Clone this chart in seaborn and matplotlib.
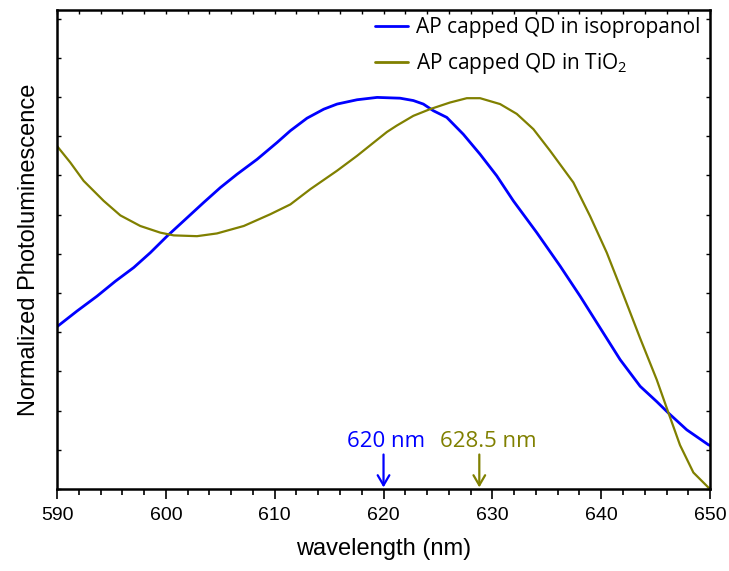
import matplotlib
matplotlib.use("Agg")
import matplotlib.pyplot as plt
import seaborn as sns
import pandas as pd
from matplotlib.ticker import MultipleLocator, NullFormatter
from matplotlib.lines import Line2D

# ---- data ----
iso_x = [590.00, 591.84, 593.68, 595.36, 597.05, 598.58, 600.11, 601.64, 603.48, 605.01,
         606.54, 608.38, 610.22, 611.44, 612.97, 614.51, 615.73, 617.57, 619.41, 621.52,
         622.74, 623.66, 624.58, 625.81, 627.33, 628.87, 630.40, 631.93, 634.08, 636.22,
         638.06, 639.90, 641.74, 643.58, 645.10, 646.17, 647.86, 649.84, 650.00]
iso_y = [0.414, 0.454, 0.492, 0.530, 0.565, 0.603, 0.645, 0.684, 0.731, 0.769,
         0.803, 0.841, 0.884, 0.914, 0.946, 0.969, 0.982, 0.993, 0.999, 0.997,
         0.991, 0.982, 0.965, 0.948, 0.905, 0.854, 0.799, 0.735, 0.654, 0.569,
         0.492, 0.411, 0.330, 0.262, 0.223, 0.194, 0.151, 0.113, 0.111]
tio_x = [590.00, 591.22, 592.45, 594.29, 595.82, 597.65, 599.49, 600.72, 602.86, 604.70,
         607.16, 609.60, 611.44, 613.28, 615.73, 617.57, 619.10, 620.32, 621.21, 622.74,
         624.27, 626.11, 627.65, 628.87, 630.71, 632.24, 633.77, 635.30, 637.44, 638.98,
         640.51, 642.04, 643.57, 645.10, 646.17, 647.24, 648.47, 649.84, 650.00]
tio_y = [0.875, 0.833, 0.786, 0.735, 0.698, 0.671, 0.654, 0.647, 0.645, 0.652,
         0.671, 0.701, 0.726, 0.765, 0.812, 0.850, 0.884, 0.911, 0.927, 0.952,
         0.969, 0.986, 0.997, 0.997, 0.982, 0.957, 0.918, 0.863, 0.782, 0.696,
         0.603, 0.495, 0.385, 0.279, 0.195, 0.112, 0.042, 0.004, 0.002]
labels = ["AP capped QD in isopropanol", "AP capped QD in TiO$_2$"]
colors = ["#0000FF", "#808000"]
peak_pos = [620.0, 628.8]
peak_text = ["620 nm", "628.5 nm"]
peak_text_x = [620.2, 629.6]

sns.set_theme(style="white")
plt.rcParams["font.family"] = ["Liberation Sans", "DejaVu Sans"]
plt.rcParams["text.color"] = "black"
plt.rcParams["axes.labelcolor"] = "black"
plt.rcParams["xtick.color"] = "black"
plt.rcParams["ytick.color"] = "black"
plt.rcParams["mathtext.fontset"] = "custom"
plt.rcParams["mathtext.rm"] = "Open Sans"
plt.rcParams["mathtext.it"] = "Open Sans"

df = pd.concat([
    pd.DataFrame({"wavelength": iso_x, "PL": iso_y, "sample": labels[0]}),
    pd.DataFrame({"wavelength": tio_x, "PL": tio_y, "sample": labels[1]}),
], ignore_index=True)

fig = plt.figure(figsize=(7.29, 5.71), dpi=100)
ax = fig.add_axes([0.0782, 0.1436, 0.974 - 0.0782, 0.9825 - 0.1436])

sns.lineplot(data=df, x="wavelength", y="PL", hue="sample", palette=colors,
             estimator=None, sort=False, ax=ax, legend=False)
for ln, lw in zip(ax.lines, [2.0, 1.6]):
    ln.set_linewidth(lw)
    ln.set_solid_joinstyle("round")

ax.set_xlim(590, 650)
ax.set_ylim(0, 1.222)

for s in ax.spines.values():
    s.set_visible(True)
    s.set_color("black")
    s.set_linewidth(1.8)

ax.xaxis.set_major_locator(MultipleLocator(10))
ax.xaxis.set_minor_locator(MultipleLocator(2))
ax.tick_params(axis="x", which="major", direction="out", length=7, width=1.2,
               bottom=True, top=False, labelsize=14, pad=6, colors="black")
ax.tick_params(axis="x", which="minor", direction="out", length=4, width=1.2,
               bottom=True, top=False)
sec = ax.secondary_xaxis("top")
sec.xaxis.set_major_locator(MultipleLocator(2))
sec.tick_params(axis="x", which="major", direction="in", length=3, width=1.0,
                labeltop=False, colors="black")
sec.spines["top"].set_visible(False)

ax.yaxis.set_major_locator(MultipleLocator(0.1))
ax.yaxis.set_major_formatter(NullFormatter())
ax.tick_params(axis="y", which="major", direction="in", length=3, width=1.0,
               left=True, right=True, labelleft=False, colors="black")

ax.set_xlabel("wavelength (nm)", fontsize=17, labelpad=10, color="black")
ax.set_ylabel("Normalized Photoluminescence", fontsize=17, labelpad=12, color="black")

handles = [Line2D([], [], color=c, lw=2.0) for c in colors]
leg = ax.legend(handles, labels, loc="upper right", bbox_to_anchor=(1.007, 1.015),
                frameon=False, handlelength=1.6, handletextpad=0.35,
                labelspacing=0.6, borderaxespad=0.3,
                prop={"family": "Open Sans", "size": 15})
for t in leg.get_texts():
    t.set_color("black")

for px, tx, t, c in zip(peak_pos, peak_text_x, peak_text, colors):
    ax.annotate("", xy=(px, 0.004), xytext=(px, 0.088),
                arrowprops=dict(arrowstyle="->,head_length=0.6,head_width=0.35",
                                color=c, lw=1.6, shrinkA=0, shrinkB=0))
    ax.text(tx, 0.122, t, color=c, ha="center", va="center",
            fontsize=16, family="Open Sans")

fig.savefig("out.png", dpi=100)
